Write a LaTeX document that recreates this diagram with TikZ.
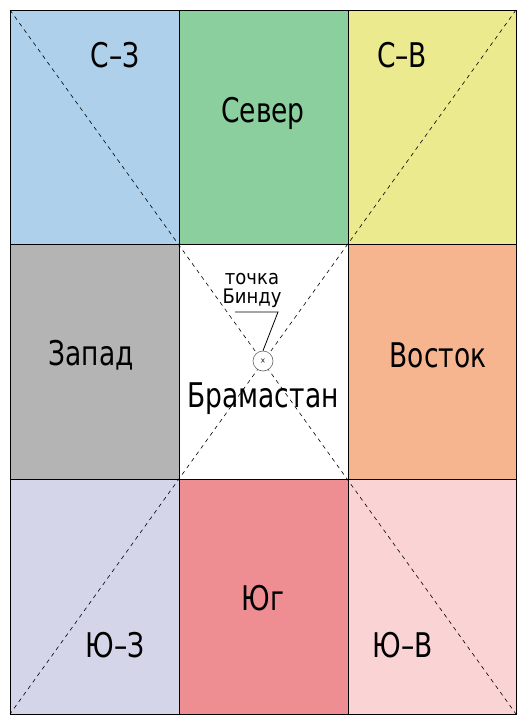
\documentclass[tikz,border=0pt]{standalone}
\usepackage{fontspec}
\setmainfont[FakeStretch=0.78]{DejaVu Sans}
\newfontfamily\smallf[FakeStretch=0.9]{DejaVu Sans}
\definecolor{cNW}{HTML}{AED0EA}
\definecolor{cN}{HTML}{8CCF9F}
\definecolor{cNE}{HTML}{EBEA8F}
\definecolor{cW}{HTML}{B4B4B4}
\definecolor{cE}{HTML}{F6B48F}
\definecolor{cSW}{HTML}{D5D5EA}
\definecolor{cS}{HTML}{EE8E93}
\definecolor{cSE}{HTML}{FAD3D5}
\tikzset{
  cell/.style={draw=black, line width=0.8pt},
  diag/.style={line width=0.6pt, dash pattern=on 4pt off 4pt},
  lbl/.style={font=\fontsize{34}{34}\selectfont, inner sep=0pt},
  small/.style={font=\smallf\fontsize{20}{20}\selectfont, inner sep=0pt},
}
\begin{document}
\begin{tikzpicture}[x=1pt,y=-1pt]
\useasboundingbox (0,0) rectangle (526,727);
\fill[white] (0,0) rectangle (526,727);
% cells
\path[cell, fill=cNW] (10,10) rectangle (179,244);
\path[cell, fill=cN] (179,10) rectangle (348,244);
\path[cell, fill=cNE] (348,10) rectangle (516,244);
\path[cell, fill=cW] (10,244) rectangle (179,479);
\path[cell, fill=white] (179,244) rectangle (348,479);
\path[cell, fill=cE] (348,244) rectangle (516,479);
\path[cell, fill=cSW] (10,479) rectangle (179,714);
\path[cell, fill=cS] (179,479) rectangle (348,714);
\path[cell, fill=cSE] (348,479) rectangle (516,714);
% diagonals
\coordinate (tl) at (10,10);
\coordinate (tr) at (516,10);
\coordinate (bl) at (10,714);
\coordinate (br) at (516,714);
\draw[diag] (tl) -- (br);
\draw[diag] (tr) -- (bl);
% labels
\node[lbl] (nw) at (115,55) {С–З};
\node[lbl] (n) at (263,113) {Север};
\node[lbl] (ne) at (402,55) {С–В};
\node[lbl] (w) at (91,355) {Запад};
\node[lbl] (e) at (438,355) {Восток};
\node[lbl] (c) at (263,399) {Брамастан};
\node[lbl] (sw) at (115,645) {Ю–З};
\node[lbl] (s) at (263,598) {Юг};
\node[lbl] (se) at (403,645) {Ю–В};
% bindu
\node[circle, draw=black!60, line width=0.6pt, fill=white, minimum size=20pt, inner sep=0pt] (pt) at (263,361) {};
\node[font=\fontsize{8}{8}\selectfont, inner sep=0pt] (px) at (263,361) {×};
\node[small] (t1) at (252,279) {точка};
\node[small] (t2) at (252,298) {Бинду};
\coordinate (l1) at (235,312);
\coordinate (l2) at (278,312);
\draw[line width=0.8pt] (l1) -- (l2) -- (pt.north);
\end{tikzpicture}
\end{document}
